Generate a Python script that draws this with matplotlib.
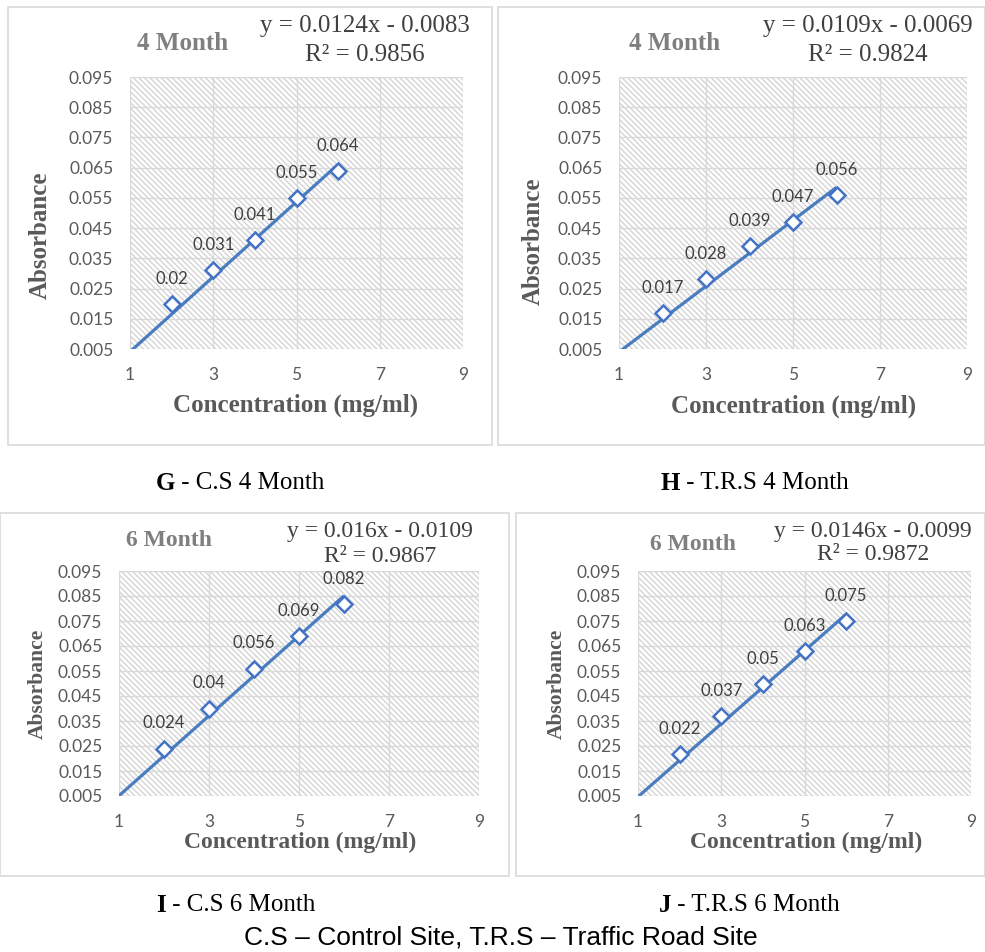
import matplotlib
matplotlib.use("Agg")
import matplotlib.pyplot as plt
from matplotlib.patches import Rectangle
import numpy as np

# ---------------- data ----------------
conc = [2, 3, 4, 5, 6]
abs_G = [0.020, 0.031, 0.041, 0.055, 0.064]
abs_H = [0.017, 0.028, 0.039, 0.047, 0.056]
abs_I = [0.024, 0.040, 0.056, 0.069, 0.082]
abs_J = [0.022, 0.037, 0.050, 0.063, 0.075]
labels_G = ["0.02", "0.031", "0.041", "0.055", "0.064"]
labels_H = ["0.017", "0.028", "0.039", "0.047", "0.056"]
labels_I = ["0.024", "0.04", "0.056", "0.069", "0.082"]
labels_J = ["0.022", "0.037", "0.05", "0.063", "0.075"]
slopes = [0.0124, 0.0109, 0.016, 0.0146]
intercepts = [-0.0083, -0.0069, -0.0109, -0.0099]
r2 = ["0.9856", "0.9824", "0.9867", "0.9872"]
eq_text = ["y = 0.0124x - 0.0083", "y = 0.0109x - 0.0069",
           "y = 0.016x - 0.0109", "y = 0.0146x - 0.0099"]
titles = ["4 Month", "4 Month", "6 Month", "6 Month"]
cap_letters = ["G", "H", "I", "J"]
cap_rest = [" - C.S 4 Month", " - T.R.S 4 Month", " - C.S 6 Month", " - T.R.S 6 Month"]
xticks = [1, 3, 5, 7, 9]
yticks = [0.005, 0.015, 0.025, 0.035, 0.045, 0.055, 0.065, 0.075, 0.085, 0.095]
footer = "C.S \u2013 Control Site, T.R.S \u2013 Traffic Road Site"

W, H = 985, 952
fig = plt.figure(figsize=(W / 100, H / 100), dpi=100)
fig.patch.set_facecolor("white")

def fx(x):
    return x / W

def fy(y):
    return 1 - y / H

def box(x0, y0, x1, y1):
    return [x0 / W, 1 - y1 / H, (x1 - x0) / W, (y1 - y0) / H]

serif = "Liberation Serif"
sans_tick = "Lato"
BLUE = "#4472C4"
LINE = "#4a7dc0"
GRAY = "#595959"

panels = [
    dict(ax=(130, 77, 463, 349), border=(8, 7, 492, 445), y=abs_G, lab=labels_G,
         title_xy=(183, 44), eq_xy=(365, 26), r2_xy=(365, 55), ylab_xy=(40, 235),
         xlab_xy=(296, 405), cap_xy=(240, 483), fs_x=18, fs_y=18, fs_eq=18, fs_t=18),
    dict(ax=(619, 77, 967, 349), border=(498, 7, 985, 445), y=abs_H, lab=labels_H,
         title_xy=(675, 44), eq_xy=(868, 26), r2_xy=(868, 55), ylab_xy=(533, 241),
         xlab_xy=(794, 406), cap_xy=(755, 483), fs_x=18, fs_y=18, fs_eq=18, fs_t=18),
    dict(ax=(119, 571, 479, 796), border=(0, 513, 509, 876), y=abs_I, lab=labels_I,
         title_xy=(169, 541), eq_xy=(380, 532), r2_xy=(380, 556), ylab_xy=(38, 684),
         xlab_xy=(300, 842), cap_xy=(236, 905), fs_x=17, fs_y=15.5, fs_eq=17, fs_t=17),
    dict(ax=(638, 571, 971, 796), border=(516, 513, 985, 876), y=abs_J, lab=labels_J,
         title_xy=(693, 545), eq_xy=(873, 532), r2_xy=(873, 555), ylab_xy=(557, 684),
         xlab_xy=(806, 842), cap_xy=(749, 905), fs_x=17, fs_y=15.5, fs_eq=17, fs_t=17),
]

for i, p in enumerate(panels):
    bx0, by0, bx1, by1 = p["border"]
    fig.add_artist(Rectangle((fx(bx0), fy(by1)), (bx1 - bx0) / W, (by1 - by0) / H,
                             transform=fig.transFigure, facecolor="none",
                             edgecolor="#d9d9d9", lw=1.2))
    ax = fig.add_axes(box(*p["ax"]))
    ax.set_xlim(1, 9)
    ax.set_ylim(0.005, 0.095)
    ax.add_patch(Rectangle((0, 0), 1, 1, transform=ax.transAxes, facecolor="white",
                           edgecolor="#d4d4d4", lw=0, hatch="\\\\\\\\\\\\", zorder=0))
    ax.set_xticks(xticks)
    ax.set_yticks(yticks)
    ax.set_xticklabels([str(v) for v in xticks], fontfamily=sans_tick, fontsize=12.5, color=GRAY)
    ax.set_yticklabels([f"{v:.3f}" for v in yticks], fontfamily=sans_tick, fontsize=12.5, color=GRAY)
    ax.tick_params(length=0, pad=12)
    ax.tick_params(axis="x", pad=13)
    for s in ax.spines.values():
        s.set_visible(False)
    ax.grid(True, color="#d9d9d9", lw=1.0, zorder=1)
    ax.set_axisbelow(True)
    xs = np.array([1.0, 6.0])
    ax.plot(xs, slopes[i] * xs + intercepts[i], color=LINE, lw=2.3, zorder=3,
            solid_capstyle="butt")
    ax.plot(conc, p["y"], linestyle="none", marker="D", markersize=8,
            markerfacecolor="white", markeredgecolor=BLUE, markeredgewidth=1.8, zorder=4)
    for xv, yv, t in zip(conc, p["y"], p["lab"]):
        ax.annotate(t, (xv, yv), xytext=(0, 18), textcoords="offset points",
                    ha="center", va="center", fontfamily=sans_tick, fontsize=12,
                    color="#404040", zorder=5)
    fig.text(fx(p["title_xy"][0]), fy(p["title_xy"][1]), titles[i], fontfamily=serif,
             fontweight="bold", fontsize=p["fs_t"], color="#7f7f7f", ha="center", va="center")
    fig.text(fx(p["eq_xy"][0]), fy(p["eq_xy"][1]), eq_text[i], fontfamily=serif,
             fontsize=p["fs_eq"], color="#404040", ha="center", va="center")
    fig.text(fx(p["r2_xy"][0]), fy(p["r2_xy"][1]), "R\u00b2 = " + r2[i], fontfamily=serif,
             fontsize=p["fs_eq"], color="#404040", ha="center", va="center")
    fig.text(fx(p["ylab_xy"][0]), fy(p["ylab_xy"][1]), "Absorbance", fontfamily=serif,
             fontweight="bold", fontsize=p["fs_y"], color=GRAY, ha="center", va="center",
             rotation=90)
    fig.text(fx(p["xlab_xy"][0]), fy(p["xlab_xy"][1]), "Concentration (mg/ml)", fontfamily=serif,
             fontweight="bold", fontsize=p["fs_x"], color=GRAY, ha="center", va="center")

fig.canvas.draw()
renderer = fig.canvas.get_renderer()
for i, p in enumerate(panels):
    cx, cy = p["cap_xy"]
    t1 = fig.text(0, 0, cap_letters[i], fontfamily=serif, fontweight="bold", fontsize=18,
                  color="black", ha="left", va="center")
    t2 = fig.text(0, 0, cap_rest[i], fontfamily=serif, fontsize=18, color="black",
                  ha="left", va="center")
    w1 = t1.get_window_extent(renderer).width
    w2 = t2.get_window_extent(renderer).width
    x0 = cx - (w1 + w2) / 2
    t1.set_position((fx(x0), fy(cy)))
    t2.set_position((fx(x0 + w1), fy(cy)))

fig.text(fx(501), fy(937), footer, fontfamily="Liberation Sans", fontsize=19,
         color="black", ha="center", va="center")

fig.savefig("out.png", dpi=100)
